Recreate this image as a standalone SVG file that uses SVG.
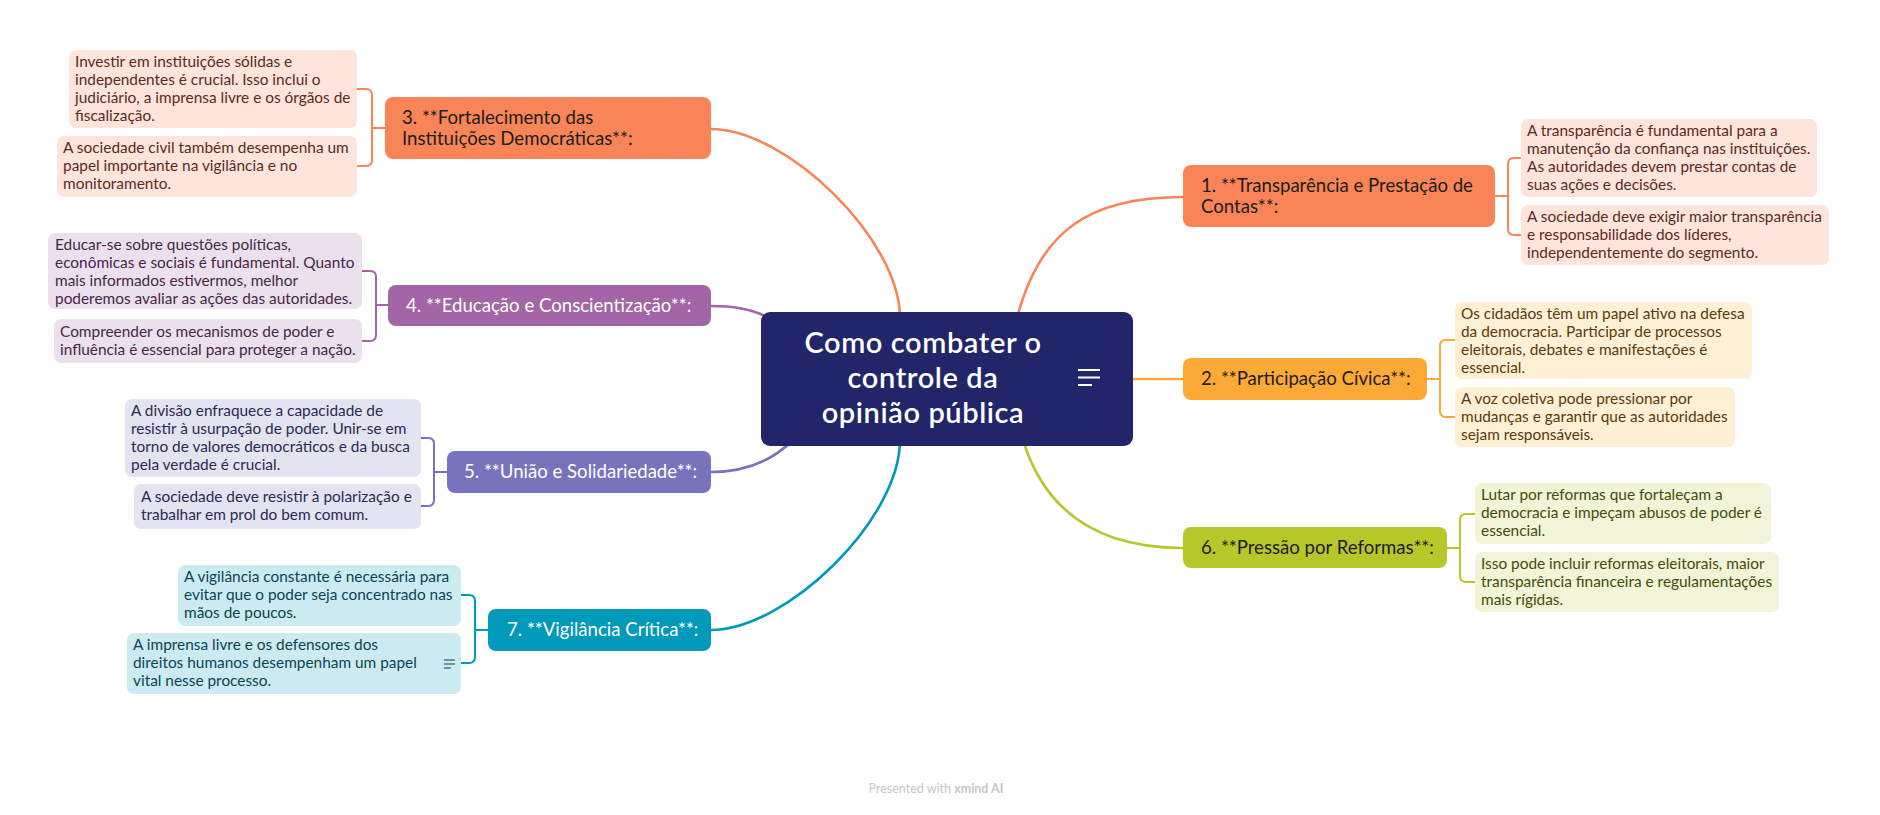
<svg xmlns="http://www.w3.org/2000/svg" width="1880" height="815" viewBox="0 0 1880 815">
<style>
  text { font-family: Lato, "Noto Sans", "Liberation Sans", sans-serif; }
  .central-text { font-size: 29px; font-weight: 600; fill: #ffffff; text-anchor: middle; letter-spacing: 0.6px; }
  .topic-text { font-size: 18.6px; }
  .sub-text { font-size: 15.4px; }
  .dark { fill: #1d1d1d; }
  .light { fill: #ffffff; }
  .line { fill: none; stroke-width: 2.6; stroke-linecap: round; }
  .bracket { fill: none; stroke-width: 2; stroke-linejoin: round; }
  .footer { font-size: 12.5px; fill: #c6c6c6; text-anchor: middle; }
</style>
<rect x="0" y="0" width="1880" height="815" fill="#ffffff"/>

<g id="connectors">
  <path class="line" stroke="#F98457" d="M1017,318 C1040,230 1090,197 1183,197"/>
  <path class="line" stroke="#FCAA37" d="M1130,379 H1183"/>
  <path class="line" stroke="#B7C72A" d="M1023,440 C1043,505 1090,548 1183,548"/>
  <path class="line" stroke="#F98457" d="M711,129 C786,129 900,239 900,318"/>
  <path class="line" stroke="#A265A5" d="M711,306 C738,306 757,310 772,320"/>
  <path class="line" stroke="#7773BD" d="M711,472 C745,472 772,461 793,440"/>
  <path class="line" stroke="#0099B9" d="M711,630 C786,630 900,520 900,440"/>

  <path class="bracket" stroke="#F98457" d="M1495,196 H1508 M1521,158 H1514 Q1508,158 1508,164 V229 Q1508,235 1514,235 H1521"/>
  <path class="bracket" stroke="#FCAA37" d="M1427,379 H1440 M1455,340 H1446 Q1440,340 1440,346 V411 Q1440,417 1446,417 H1455"/>
  <path class="bracket" stroke="#B7C72A" d="M1447,548 H1460 M1475,514 H1466 Q1460,514 1460,520 V576 Q1460,582 1466,582 H1475"/>
  <path class="bracket" stroke="#F98457" d="M385,128 H372 M357,89 H366 Q372,89 372,95 V160 Q372,166 366,166 H357"/>
  <path class="bracket" stroke="#A265A5" d="M388,305 H376 M362,271 H370 Q376,271 376,277 V335 Q376,341 370,341 H362"/>
  <path class="bracket" stroke="#7773BD" d="M447,472 H434 M421,438 H428 Q434,438 434,444 V500 Q434,506 428,506 H421"/>
  <path class="bracket" stroke="#0099B9" d="M488,630 H475 M461,595 H469 Q475,595 475,601 V657 Q475,663 469,663 H461"/>
</g>

<g id="central">
  <rect x="761" y="312" width="372" height="134" rx="9" fill="#21256A"/>
  <text class="central-text" x="923" y="353">Como combater o</text>
  <text class="central-text" x="923" y="388">controle da</text>
  <text class="central-text" x="923" y="423">opinião pública</text>
  <path d="M1078,370 H1100 M1078,377.5 H1100 M1078,385 H1092" stroke="#ffffff" stroke-width="2" fill="none"/>
</g>

<g id="topic1">
  <rect x="1183" y="165" width="312" height="62" rx="8" fill="#F98457"/>
  <text class="topic-text dark" x="1201" y="192">1. **Transparência e Prestação de</text>
  <text class="topic-text dark" x="1201" y="213">Contas**:</text>
</g>
<g id="sub1a">
  <rect x="1521" y="119" width="296" height="78" rx="7" fill="#FEE4DB"/>
  <text class="sub-text" fill="#5C2B1B" x="1527" y="136">A transparência é fundamental para a</text>
  <text class="sub-text" fill="#5C2B1B" x="1527" y="154">manutenção da confiança nas instituições.</text>
  <text class="sub-text" fill="#5C2B1B" x="1527" y="172">As autoridades devem prestar contas de</text>
  <text class="sub-text" fill="#5C2B1B" x="1527" y="190">suas ações e decisões.</text>
</g>
<g id="sub1b">
  <rect x="1521" y="205" width="308" height="60" rx="7" fill="#FEE4DB"/>
  <text class="sub-text" fill="#5C2B1B" x="1527" y="222">A sociedade deve exigir maior transparência</text>
  <text class="sub-text" fill="#5C2B1B" x="1527" y="240">e responsabilidade dos líderes,</text>
  <text class="sub-text" fill="#5C2B1B" x="1527" y="258">independentemente do segmento.</text>
</g>

<g id="topic2">
  <rect x="1183" y="358" width="244" height="42" rx="8" fill="#FCAA37"/>
  <text class="topic-text dark" x="1201" y="385">2. **Participação Cívica**:</text>
</g>
<g id="sub2a">
  <rect x="1455" y="302" width="297" height="77" rx="7" fill="#FFEFD5"/>
  <text class="sub-text" fill="#5A3A0E" x="1461" y="319">Os cidadãos têm um papel ativo na defesa</text>
  <text class="sub-text" fill="#5A3A0E" x="1461" y="337">da democracia. Participar de processos</text>
  <text class="sub-text" fill="#5A3A0E" x="1461" y="355">eleitorais, debates e manifestações é</text>
  <text class="sub-text" fill="#5A3A0E" x="1461" y="373">essencial.</text>
</g>
<g id="sub2b">
  <rect x="1455" y="387" width="280" height="60" rx="7" fill="#FFEFD5"/>
  <text class="sub-text" fill="#5A3A0E" x="1461" y="404">A voz coletiva pode pressionar por</text>
  <text class="sub-text" fill="#5A3A0E" x="1461" y="422">mudanças e garantir que as autoridades</text>
  <text class="sub-text" fill="#5A3A0E" x="1461" y="440">sejam responsáveis.</text>
</g>

<g id="topic6">
  <rect x="1183" y="527" width="264" height="41" rx="8" fill="#B7C72A"/>
  <text class="topic-text dark" x="1201" y="554">6. **Pressão por Reformas**:</text>
</g>
<g id="sub6a">
  <rect x="1475" y="483" width="296" height="61" rx="7" fill="#F1F4D6"/>
  <text class="sub-text" fill="#454C0E" x="1481" y="500">Lutar por reformas que fortaleçam a</text>
  <text class="sub-text" fill="#454C0E" x="1481" y="518">democracia e impeçam abusos de poder é</text>
  <text class="sub-text" fill="#454C0E" x="1481" y="536">essencial.</text>
</g>
<g id="sub6b">
  <rect x="1475" y="552" width="304" height="60" rx="7" fill="#F1F4D6"/>
  <text class="sub-text" fill="#454C0E" x="1481" y="569">Isso pode incluir reformas eleitorais, maior</text>
  <text class="sub-text" fill="#454C0E" x="1481" y="587">transparência financeira e regulamentações</text>
  <text class="sub-text" fill="#454C0E" x="1481" y="605">mais rígidas.</text>
</g>

<g id="topic3">
  <rect x="385" y="97" width="326" height="62" rx="8" fill="#F98457"/>
  <text class="topic-text dark" x="402" y="124">3. **Fortalecimento das</text>
  <text class="topic-text dark" x="402" y="145">Instituições Democráticas**:</text>
</g>
<g id="sub3a">
  <rect x="69" y="50" width="288" height="78" rx="7" fill="#FEE4DB"/>
  <text class="sub-text" fill="#5C2B1B" x="75" y="67">Investir em instituições sólidas e</text>
  <text class="sub-text" fill="#5C2B1B" x="75" y="85">independentes é crucial. Isso inclui o</text>
  <text class="sub-text" fill="#5C2B1B" x="75" y="103">judiciário, a imprensa livre e os órgãos de</text>
  <text class="sub-text" fill="#5C2B1B" x="75" y="121">fiscalização.</text>
</g>
<g id="sub3b">
  <rect x="57" y="136" width="300" height="61" rx="7" fill="#FEE4DB"/>
  <text class="sub-text" fill="#5C2B1B" x="63" y="153">A sociedade civil também desempenha um</text>
  <text class="sub-text" fill="#5C2B1B" x="63" y="171">papel importante na vigilância e no</text>
  <text class="sub-text" fill="#5C2B1B" x="63" y="189">monitoramento.</text>
</g>

<g id="topic4">
  <rect x="388" y="285" width="323" height="41" rx="8" fill="#A265A5"/>
  <text class="topic-text light" x="406" y="312">4. **Educação e Conscientização**:</text>
</g>
<g id="sub4a">
  <rect x="48" y="233" width="314" height="76" rx="7" fill="#EDE0EE"/>
  <text class="sub-text" fill="#452848" x="55" y="250">Educar-se sobre questões políticas,</text>
  <text class="sub-text" fill="#452848" x="55" y="268">econômicas e sociais é fundamental. Quanto</text>
  <text class="sub-text" fill="#452848" x="55" y="286">mais informados estivermos, melhor</text>
  <text class="sub-text" fill="#452848" x="55" y="304">poderemos avaliar as ações das autoridades.</text>
</g>
<g id="sub4b">
  <rect x="54" y="319" width="308" height="44" rx="7" fill="#EDE0EE"/>
  <text class="sub-text" fill="#452848" x="60" y="337">Compreender os mecanismos de poder e</text>
  <text class="sub-text" fill="#452848" x="60" y="355">influência é essencial para proteger a nação.</text>
</g>

<g id="topic5">
  <rect x="447" y="451" width="264" height="42" rx="8" fill="#7773BD"/>
  <text class="topic-text light" x="464" y="478">5. **União e Solidariedade**:</text>
</g>
<g id="sub5a">
  <rect x="125" y="399" width="296" height="78" rx="7" fill="#E4E3F1"/>
  <text class="sub-text" fill="#2C2A52" x="131" y="416">A divisão enfraquece a capacidade de</text>
  <text class="sub-text" fill="#2C2A52" x="131" y="434">resistir à usurpação de poder. Unir-se em</text>
  <text class="sub-text" fill="#2C2A52" x="131" y="452">torno de valores democráticos e da busca</text>
  <text class="sub-text" fill="#2C2A52" x="131" y="470">pela verdade é crucial.</text>
</g>
<g id="sub5b">
  <rect x="134" y="484" width="287" height="45" rx="7" fill="#E4E3F1"/>
  <text class="sub-text" fill="#2C2A52" x="141" y="502">A sociedade deve resistir à polarização e</text>
  <text class="sub-text" fill="#2C2A52" x="141" y="520">trabalhar em prol do bem comum.</text>
</g>

<g id="topic7">
  <rect x="488" y="609" width="223" height="42" rx="8" fill="#0099B9"/>
  <text class="topic-text light" x="507" y="636">7. **Vigilância Crítica**:</text>
</g>
<g id="sub7a">
  <rect x="178" y="565" width="283" height="61" rx="7" fill="#CCEBF1"/>
  <text class="sub-text" fill="#0D4452" x="184" y="582">A vigilância constante é necessária para</text>
  <text class="sub-text" fill="#0D4452" x="184" y="600">evitar que o poder seja concentrado nas</text>
  <text class="sub-text" fill="#0D4452" x="184" y="618">mãos de poucos.</text>
</g>
<g id="sub7b">
  <rect x="127" y="633" width="334" height="61" rx="7" fill="#CCEBF1"/>
  <text class="sub-text" fill="#0D4452" x="133" y="650">A imprensa livre e os defensores dos</text>
  <text class="sub-text" fill="#0D4452" x="133" y="668">direitos humanos desempenham um papel</text>
  <text class="sub-text" fill="#0D4452" x="133" y="686">vital nesse processo.</text>
  <path d="M444,660 H455 M444,664 H455 M444,668 H451" stroke="#0D4452" stroke-width="1.2" fill="none"/>
</g>

<text class="footer" x="936" y="793">Presented with <tspan font-weight="700">xmind AI</tspan></text>
</svg>
